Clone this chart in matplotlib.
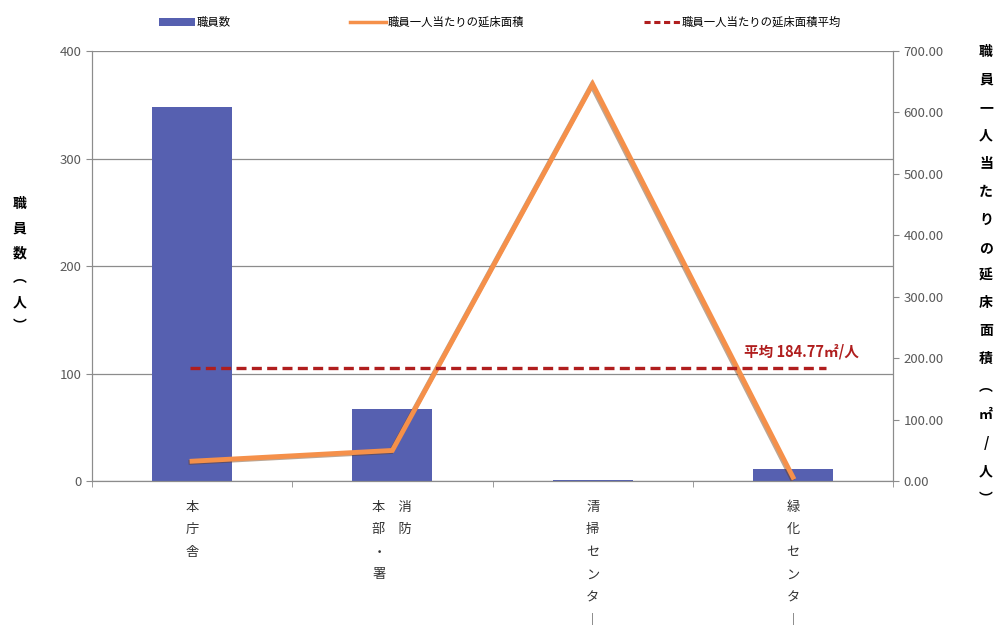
import matplotlib
matplotlib.use("Agg")
import matplotlib.pyplot as plt
import matplotlib.patheffects as pe
import numpy as np
from matplotlib.patches import Patch
from matplotlib.lines import Line2D

plt.rcParams['font.family'] = ['Noto Sans CJK JP', 'DejaVu Sans']

# data
categories = ["本\n庁\n舎", "本　消\n部　防\n・\n署", "清\n掃\nセ\nン\nタ\n︱", "緑\n化\nセ\nン\nタ\n︱"]
staff = [348, 67, 1, 11]
area_per_staff = [32.5, 50.0, 646.0, 6.5]
area_avg = 184.77

bar_color = "#5660B0"
line_color = "#F5904A"
avg_color = "#B01E1E"
grid_color = "#8C8C8C"
tick_color = "#595959"

fig = plt.figure(figsize=(9.99, 6.29), dpi=100)
ax = fig.add_axes([0.092, 0.235, 0.802, 0.684])
x = np.arange(len(categories))

ax.bar(x, staff, width=0.4, color=bar_color, zorder=2)
ax.set_xlim(-0.5, len(categories) - 0.5)
ax.set_ylim(0, 400)
ax.set_yticks([0, 100, 200, 300, 400])
ax.grid(axis="y", color=grid_color, linewidth=0.9, zorder=0)
ax.set_xticks(x)
ax.set_xticklabels(categories, linespacing=1.96, fontsize=9.5, color="#333333",
                   va="top", multialignment="left")
ax.set_xticks(np.arange(len(categories) + 1) - 0.5, minor=True)
ax.tick_params(axis="x", which="major", length=0, pad=14)
ax.tick_params(axis="x", which="minor", length=4, color=grid_color)
ax.tick_params(axis="y", length=4, color=grid_color, labelcolor=tick_color, labelsize=9.5)
ax.spines["top"].set_visible(False)
for side in ["left", "bottom", "right"]:
    ax.spines[side].set_color(grid_color)

ax2 = ax.twinx()
ax2.plot(x, area_per_staff, color=line_color, linewidth=3.5, zorder=3, solid_joinstyle="miter",
         path_effects=[pe.SimpleLineShadow(offset=(-0.8, -0.8), shadow_color="#6b3b12", alpha=0.45),
                       pe.Normal()])
ax2.hlines(area_avg, -0.01, 3.165, colors=avg_color, linestyles=(0, (3, 1.6)), linewidth=2.4, zorder=4)
ax2.text(3.04, area_avg + 14, f"平均 {area_avg}㎡/人", color=avg_color, fontsize=10.5,
         fontweight="bold", ha="center", va="bottom")
ax2.set_ylim(0, 700)
ax2.set_yticks(np.arange(0, 701, 100))
ax2.set_yticklabels([f"{v:.2f}" for v in np.arange(0, 701, 100)])
ax2.tick_params(axis="y", length=4, color=grid_color, labelcolor=tick_color, labelsize=9.5)
ax2.spines["top"].set_visible(False)
for side in ["left", "bottom", "right"]:
    ax2.spines[side].set_color(grid_color)

# stacked vertical axis titles
fig.text(0.02, 0.578, "\n".join("職員数︵人︶"), fontsize=10, fontweight="bold",
         ha="center", va="center", linespacing=1.95)
fig.text(0.987, 0.562, "\n".join("職員一人当たりの延床面積︵㎡/人︶"), fontsize=10, fontweight="bold",
         ha="center", va="center", linespacing=2.27)

handles = [
    Patch(facecolor=bar_color),
    Line2D([0], [0], color=line_color, linewidth=2.5),
    Line2D([0], [0], color=avg_color, linewidth=2.2, linestyle=(0, (2, 1.2))),
]
labels = ["職員数", "職員一人当たりの延床面積", "職員一人当たりの延床面積平均"]
fig.legend(handles, labels, loc="upper center", bbox_to_anchor=(0.5, 0.99), ncol=3,
           frameon=False, fontsize=8.2, handlelength=3.2, handletextpad=0.1,
           columnspacing=10.5, handleheight=0.6)

fig.savefig("out.png", dpi=100)
